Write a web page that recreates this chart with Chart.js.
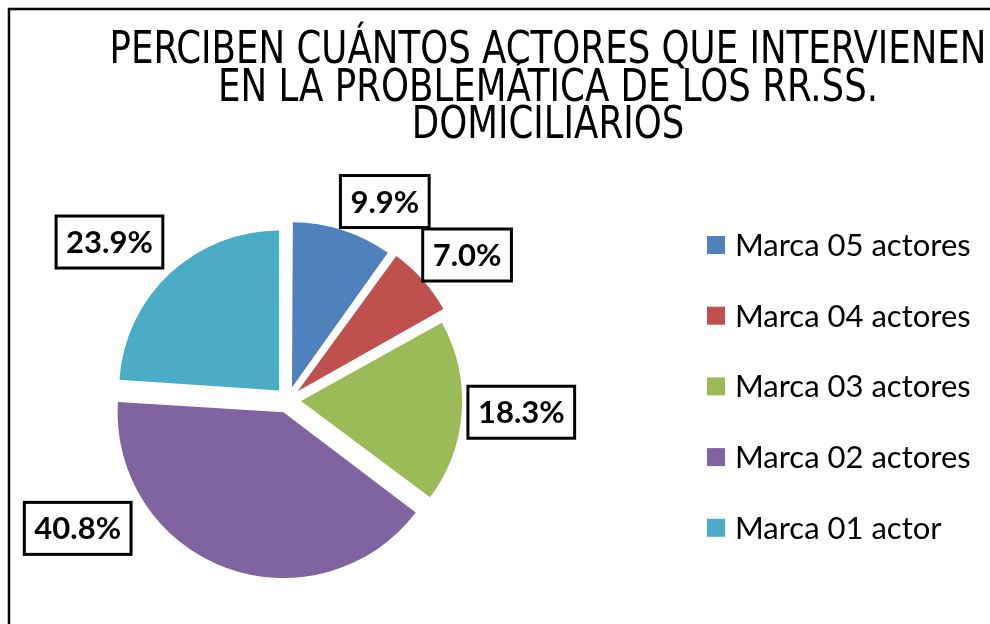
<!DOCTYPE html>
<html>
<head>
<meta charset="utf-8">
<script src="https://cdn.jsdelivr.net/npm/chart.js@4.4.0/dist/chart.umd.min.js"></script>
<style>
    html, body { margin: 0; padding: 0; background: #ffffff; }
    #wrap { width: 990px; height: 624px; position: relative; }
</style>
</head>
<body>
<div id="wrap"><canvas id="pieChart"></canvas></div>
<script>
const titleLines = [
    'PERCIBEN CUÁNTOS ACTORES QUE INTERVIENEN',
    'EN LA PROBLEMÁTICA DE LOS RR.SS.',
    'DOMICILIARIOS'
];
const categories = ['Marca 05 actores', 'Marca 04 actores', 'Marca 03 actores', 'Marca 02 actores', 'Marca 01 actor'];
const percentages = [9.9, 7.0, 18.3, 40.8, 23.9];
const sliceColors = ['#4F81BD', '#C0504D', '#9BBB59', '#8064A2', '#4BACC6'];

// where each data label sits: angle from the top (deg, clockwise) and distance in radii
const labelAngles = [26, 51, 93, 238.6, 311.5];
const labelDistances = [1.38, 1.44, 1.46, 1.54, 1.49];

const drawTitle = (ctx) => {
    ctx.save();
    ctx.font = '44px "Liberation Sans Narrow", "DejaVu Sans Condensed", "Liberation Sans", sans-serif';
    ctx.fillStyle = '#000000';
    ctx.textAlign = 'center';
    ctx.textBaseline = 'alphabetic';
    // squeeze to the width of the first line
    const squeeze = Math.min(1, 877 / ctx.measureText(titleLines[0]).width);
    ctx.translate(548, 0);
    ctx.scale(squeeze, 1);
    titleLines.forEach((line, i) => ctx.fillText(line, 0, 63 + i * 37.5));
    ctx.restore();
};

const drawLegend = (ctx) => {
    ctx.save();
    ctx.font = '31px Lato, "Open Sans", sans-serif';
    ctx.textAlign = 'left';
    ctx.textBaseline = 'middle';
    categories.forEach((name, i) => {
        const y = 245 + i * 70.7;
        ctx.fillStyle = sliceColors[i];
        ctx.fillRect(707, y - 9, 18, 18);
        ctx.fillStyle = '#000000';
        ctx.fillText(name, 735, y + 1);
    });
    ctx.restore();
};

const drawLabels = (chart) => {
    const ctx = chart.ctx;
    const arcs = chart.getDatasetMeta(0).data;
    ctx.save();
    ctx.font = 'bold 31px Lato, "Open Sans", sans-serif';
    ctx.textAlign = 'center';
    ctx.textBaseline = 'middle';
    arcs.forEach((arc, i) => {
        const {x, y, outerRadius} = arc.getProps(['x', 'y', 'outerRadius'], true);
        const a = labelAngles[i] * Math.PI / 180;
        const cx = x + Math.sin(a) * outerRadius * labelDistances[i];
        const cy = y - Math.cos(a) * outerRadius * labelDistances[i];
        const text = percentages[i].toFixed(1) + '%';
        const w = ctx.measureText(text).width + 20;
        const h = 52;
        ctx.fillStyle = '#ffffff';
        ctx.fillRect(cx - w / 2, cy - h / 2, w, h);
        ctx.lineWidth = 3;
        ctx.strokeStyle = '#000000';
        ctx.strokeRect(cx - w / 2, cy - h / 2, w, h);
        ctx.fillStyle = '#000000';
        ctx.fillText(text, cx, cy + 1);
    });
    ctx.restore();
};

const decorations = {
    id: 'decorations',
    beforeDraw: (chart) => {
        const ctx = chart.ctx;
        ctx.save();
        ctx.fillStyle = '#ffffff';
        ctx.fillRect(0, 0, chart.width, chart.height);
        ctx.strokeStyle = '#000000';
        ctx.lineWidth = 2.5;
        ctx.beginPath();
        ctx.moveTo(9, chart.height + 5);
        ctx.lineTo(9, 9);
        ctx.lineTo(chart.width + 5, 9);
        ctx.stroke();
        ctx.restore();
    },
    afterDraw: (chart) => {
        drawTitle(chart.ctx);
        drawLegend(chart.ctx);
        drawLabels(chart);
    }
};

new Chart(document.getElementById('pieChart'), {
    type: 'pie',
    data: {
        labels: categories,
        datasets: [{
            data: percentages,
            backgroundColor: sliceColors,
            borderWidth: 0,
            offset: 52,
            hoverOffset: 0
        }]
    },
    options: {
        responsive: true,
        maintainAspectRatio: false,
        animation: false,
        events: [],
        radius: 160,
        layout: {
            padding: { left: 68, right: 482, top: 180, bottom: 4 }
        },
        plugins: {
            legend: { display: false },
            title: { display: false },
            tooltip: { enabled: false }
        }
    },
    plugins: [decorations]
});
</script>
</body>
</html>
